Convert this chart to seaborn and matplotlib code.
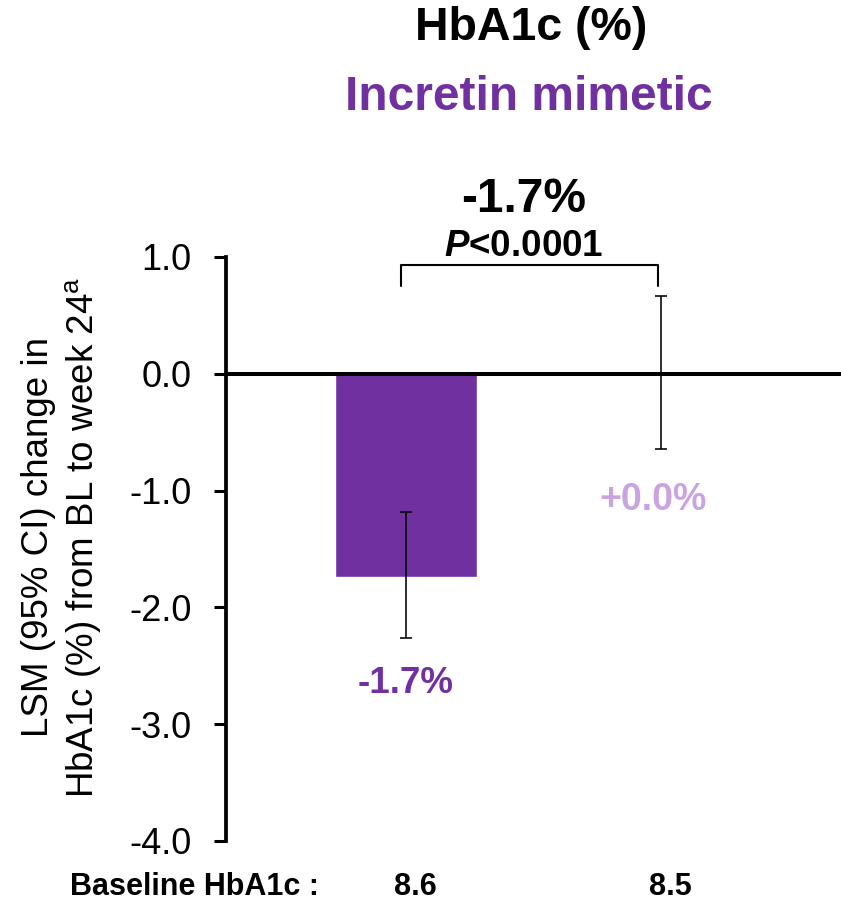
import matplotlib
matplotlib.use("Agg")
import matplotlib.pyplot as plt
import matplotlib.transforms as mtransforms
import seaborn as sns
import pandas as pd

categories = ["8.6", "8.5"]
values = [-1.74, 0.01]
ci_low = [-2.26, -0.64]
ci_high = [-1.18, 0.67]
bar_labels = ["-1.7%", "+0.0%"]
colors = ["#7030A0", "#C9A3E2"]
yticks = [1.0, 0.0, -1.0, -2.0, -3.0, -4.0]

sns.set_theme(style="white")
plt.rcParams['font.family'] = ['Liberation Sans', 'DejaVu Sans']
plt.rcParams['mathtext.fontset'] = 'custom'
plt.rcParams['mathtext.rm'] = 'Liberation Sans'
plt.rcParams['mathtext.it'] = 'Liberation Sans:italic:bold'
plt.rcParams['mathtext.bf'] = 'Liberation Sans:bold'

df = pd.DataFrame({"cat": categories, "val": values})

fig = plt.figure(figsize=(8.41, 9.01), dpi=100)
ax = fig.add_axes([226/841, 60/901, (841-226)/841, (841-257)/901])

sns.barplot(data=df, x="cat", y="val", hue="cat", palette=colors, width=0.56,
            errorbar=None, legend=False, ax=ax, saturation=1)

for i, (v, lo, hi) in enumerate(zip(values, ci_low, ci_high)):
    ax.errorbar(i, v, yerr=[[v - lo], [hi - v]], fmt="none", ecolor="black",
                elinewidth=1.15, capsize=4.3, capthick=1.15, zorder=5)

ax.axhline(0, color="black", lw=2.9, zorder=4)

ax.set_ylim(-4, 1)
ax.set_xlim(-0.706, 1.706)
ax.set_yticks(yticks)
ax.set_yticklabels([f"{t:.1f}" for t in yticks], fontsize=26, color="black")
ax.tick_params(axis="y", direction="out", length=8.6, width=2.2, pad=16,
               left=True, colors="black")
ax.set_xticks([0, 1])
ax.set_xticklabels([])
ax.tick_params(axis="x", length=0)
ax.set_xlabel("")
ax.set_ylabel("")

for s in ["top", "right", "bottom"]:
    ax.spines[s].set_visible(False)
ax.spines["left"].set_linewidth(2.7)
ax.spines["left"].set_color("black")

# baseline labels under bars
trans = mtransforms.blended_transform_factory(ax.transData, fig.transFigure)
for i, c in enumerate(categories):
    ax.text(i + 0.035, 1 - 887/901, c, transform=trans, ha="center", va="center",
            fontsize=22, fontweight="bold", color="black")

# bar value labels
ax.text(0, -2.65, bar_labels[0], ha="center", va="center", fontsize=26.5,
        fontweight="bold", color=colors[0])
ax.text(0.97, -1.08, bar_labels[1], ha="center", va="center", fontsize=27,
        fontweight="bold", color=colors[1])

# bracket
bx0, bx1, by, byl = -0.02, 0.99, 0.93, 0.75
ax.plot([bx0, bx0, bx1, bx1], [byl, by, by, byl], color="black", lw=1.5,
        clip_on=False, solid_joinstyle="round")
ax.text(0.46, 1.49, "-1.7%", ha="center", va="center", fontsize=34.5,
        fontweight="bold", color="black")
ax.text(0.46, 1.09, "$\\mathit{P}$<0.0001", ha="center", va="center",
        fontsize=26.5, fontweight="bold", color="black")

fig.text(531/841, 1 - 28/901, "HbA1c (%)", ha="center", va="center",
         fontsize=33.5, fontweight="bold", color="black")
fig.text(529/841, 1 - 98/901, "Incretin mimetic", ha="center", va="center",
         fontsize=34.5, fontweight="bold", color="#7030A0")
fig.text(70/841, 1 - 887/901, "Baseline HbA1c :", ha="left", va="center",
         fontsize=22, fontweight="bold", color="black")

fig.text(62/841, 1 - 537/901,
         "LSM (95% CI) change in\nHbA1c (%) from BL to week 24$^{\\mathrm{a}}$",
         rotation=90, ha="center", va="center", multialignment="center",
         fontsize=26.5, linespacing=1.22, color="black")

fig.savefig("out.png", dpi=100)
